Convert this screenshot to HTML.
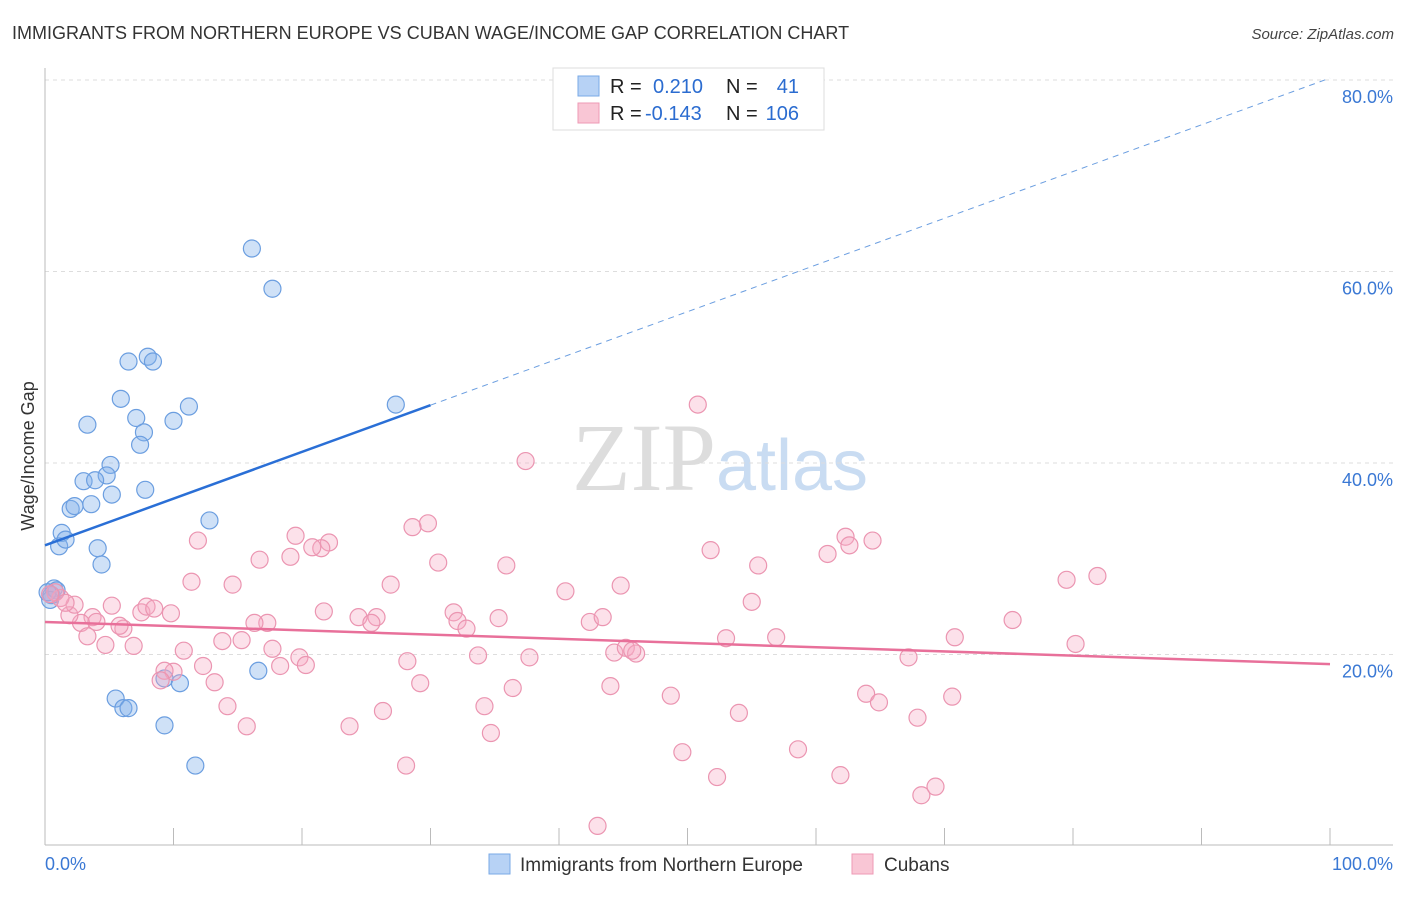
<!DOCTYPE html>
<html><head><meta charset="utf-8">
<style>
body{margin:0;background:#fff;font-family:"Liberation Sans",sans-serif;}
svg text{font-family:"Liberation Sans",sans-serif;}
</style></head>
<body>
<svg id="chart" width="1406" height="892" xmlns="http://www.w3.org/2000/svg">
<text x="12" y="39" font-size="18" fill="#333">IMMIGRANTS FROM NORTHERN EUROPE VS CUBAN WAGE/INCOME GAP CORRELATION CHART</text>
<text x="1394" y="39" font-size="15" fill="#444" text-anchor="end" font-style="italic">Source: ZipAtlas.com</text>
<text x="720" y="490" font-size="96" text-anchor="middle"><tspan fill="#ddd" font-family="Liberation Serif">ZIP</tspan><tspan fill="#c9dcf2" font-size="72">atlas</tspan></text>
<g id="grid"></g>
<g id="axes"></g>
<g id="marks"></g>
<text transform="translate(34,456) rotate(-90)" font-size="18" fill="#333" text-anchor="middle">Wage/Income Gap</text>
<g>
<rect x="553" y="68" width="271" height="62" fill="#fff" stroke="#ddd"/>
<rect x="578" y="76" width="21" height="20" fill="#b7d2f5" stroke="#7aa9e6"/>
<rect x="578" y="103" width="21" height="20" fill="#f9c6d5" stroke="#ee9ab5"/>
<text x="610" y="93" font-size="20" fill="#222">R = </text><text x="653" y="93" font-size="20" fill="#2b6cd0">0.210</text>
<text x="726" y="93" font-size="20" fill="#222">N = </text><text x="799" y="93" font-size="20" fill="#2b6cd0" text-anchor="end">41</text>
<text x="610" y="120" font-size="20" fill="#222">R = </text><text x="645" y="120" font-size="20" fill="#2b6cd0">-0.143</text>
<text x="726" y="120" font-size="20" fill="#222">N = </text><text x="799" y="120" font-size="20" fill="#2b6cd0" text-anchor="end">106</text>
</g>
<g>
<rect x="489" y="854" width="21" height="20" fill="#b7d2f5" stroke="#7aa9e6"/>
<text x="520" y="871" font-size="19" fill="#333">Immigrants from Northern Europe</text>
<rect x="852" y="854" width="21" height="20" fill="#f9c6d5" stroke="#ee9ab5"/>
<text x="884" y="871" font-size="19" fill="#333">Cubans</text>
</g>
</svg>
<script>
const yTicks=[20,40,60,80];
const yTickLabels=["20.0%","40.0%","60.0%","80.0%"];
const xTickLabels=["0.0%","100.0%"];
const blueX=[16.1,17.7,6.5,8.0,8.4,5.9,3.3,7.1,7.7,7.4,10.0,11.2,27.3,5.1,3.0,4.8,3.9,2.0,2.3,3.6,5.2,7.8,12.8,1.3,1.1,1.6,4.1,4.4,0.7,0.5,0.9,9.3,10.5,16.6,5.5,6.1,6.5,9.3,11.7,0.4,0.2];
const blueY=[62.4,58.2,50.6,51.1,50.6,46.7,44.0,44.7,43.2,41.9,44.4,45.9,46.1,39.8,38.1,38.7,38.2,35.2,35.5,35.7,36.7,37.2,34.0,32.7,31.3,32.0,31.1,29.4,26.9,26.2,26.7,17.5,17.0,18.3,15.4,14.4,14.4,12.6,8.4,25.7,26.5];
const pinkX=[50.8,37.4,29.8,28.6,19.5,22.1,11.9,21.5,20.8,16.7,19.1,30.6,35.9,51.8,55.5,60.9,62.3,62.6,64.4,81.9,79.5,44.8,40.5,26.9,14.6,11.4,31.8,35.3,24.4,25.8,25.4,21.7,32.1,32.8,42.4,43.4,55.0,75.3,70.8,56.9,53.0,80.2,17.3,16.3,15.3,13.8,17.7,19.8,20.3,18.3,12.3,10.8,10.0,9.3,9.0,13.2,14.2,15.7,23.7,26.3,28.1,29.2,28.2,33.7,37.7,44.3,45.2,46.0,45.7,36.4,34.2,34.7,44.0,48.7,54.0,63.9,64.9,67.2,70.6,67.9,49.6,52.3,58.6,61.9,68.2,69.3,43.0,5.2,6.1,3.7,2.8,1.9,2.3,3.3,4.7,6.9,7.5,7.9,8.5,9.8,5.8,4.0,1.2,0.8,1.6,0.4];
const pinkY=[46.1,40.2,33.7,33.3,32.4,31.7,31.9,31.1,31.2,29.9,30.2,29.6,29.3,30.9,29.3,30.5,32.3,31.4,31.9,28.2,27.8,27.2,26.6,27.3,27.3,27.6,24.4,23.8,23.9,23.9,23.3,24.5,23.5,22.7,23.4,23.9,25.5,23.6,21.8,21.8,21.7,21.1,23.3,23.3,21.5,21.4,20.6,19.7,18.9,18.8,18.8,20.4,18.2,18.3,17.3,17.1,14.6,12.5,12.5,14.1,8.4,17.0,19.3,19.9,19.7,20.2,20.7,20.1,20.4,16.5,14.6,11.8,16.7,15.7,13.9,15.9,15.0,19.7,15.6,13.4,9.8,7.2,10.1,7.4,5.3,6.2,2.1,25.1,22.7,23.9,23.3,24.1,25.2,21.9,21.0,20.9,24.4,25.0,24.8,24.3,23.0,23.4,25.9,26.5,25.4,26.3];
const blueTrend=[31.4,80.2];
const pinkTrend=[23.4,19.0];
const blueSolidEnd=30;

const NS="http://www.w3.org/2000/svg";
const X0=45,X1=1330,YB=846,YPX=9.575;
function sx(v){return X0+(X1-X0)*v/100;}
function sy(v){return YB-v*YPX;}
function mk(tag,attrs,parent){const e=document.createElementNS(NS,tag);for(const k in attrs)e.setAttribute(k,attrs[k]);parent.appendChild(e);return e;}
const grid=document.getElementById('grid'),axes=document.getElementById('axes'),marks=document.getElementById('marks');
yTicks.forEach((t,i)=>{
  const l=mk('line',{x1:X0,x2:1393,y1:sy(t),y2:sy(t),stroke:'#ddd','stroke-dasharray':'4,4'},grid);
  
  
  const tx=mk('text',{x:1393,y:sy(t)+23,'font-size':18,fill:'#3a78d4','text-anchor':'end'},axes);
  tx.textContent=yTickLabels[i];
  
  
});
const ya=mk('line',{x1:X0,x2:X0,y1:68,y2:845,stroke:'#bbb'},axes);


const xa=mk('line',{x1:X0,x2:1393,y1:845,y2:845,stroke:'#bbb'},axes);


for(let i=1;i<=10;i++){
  const t=mk('line',{x1:sx(i*10),x2:sx(i*10),y1:828,y2:845,stroke:'#bbb'},axes);
  
  
}
const xl0=mk('text',{x:45,y:870,'font-size':18,fill:'#3a78d4'},axes);
xl0.textContent=xTickLabels[0];


const xl1=mk('text',{x:1393,y:870,'font-size':18,fill:'#3a78d4','text-anchor':'end'},axes);
xl1.textContent=xTickLabels[1];



blueX.forEach((x,i)=>{
  const c=mk('circle',{cx:sx(x),cy:sy(blueY[i]),r:8.5,fill:'rgba(130,175,235,0.38)',stroke:'#6b9ee0','stroke-width':1.2},marks);
  
  
});
pinkX.forEach((x,i)=>{
  const c=mk('circle',{cx:sx(x),cy:sy(pinkY[i]),r:8.5,fill:'rgba(245,170,195,0.35)',stroke:'#eb95b1','stroke-width':1.2},marks);
  
  
});
function ty(tr,x){return tr[0]+(tr[1]-tr[0])*x/100;}
const bl=mk('line',{x1:sx(0),y1:sy(ty(blueTrend,0)),x2:sx(blueSolidEnd),y2:sy(ty(blueTrend,blueSolidEnd)),stroke:'#2a6fd6','stroke-width':2.5},marks);


const bd=mk('line',{x1:sx(blueSolidEnd),y1:sy(ty(blueTrend,blueSolidEnd)),x2:sx(100),y2:sy(ty(blueTrend,100)),stroke:'#6b9ee0','stroke-width':1,'stroke-dasharray':'6,5'},marks);


const pl=mk('line',{x1:sx(0),y1:sy(ty(pinkTrend,0)),x2:sx(100),y2:sy(ty(pinkTrend,100)),stroke:'#e8709a','stroke-width':2.5},marks);


</script>
</body></html>
